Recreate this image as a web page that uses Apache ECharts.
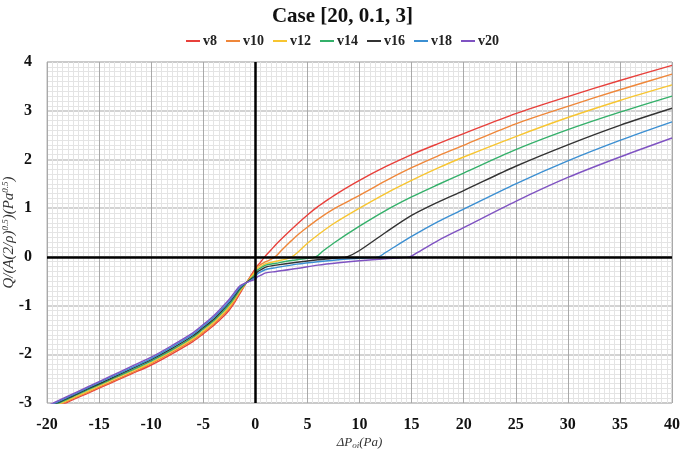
<!DOCTYPE html>
<html>
<head>
<meta charset="utf-8">
<script src="https://cdn.jsdelivr.net/npm/echarts@6/dist/echarts.min.js"></script>
<style>html,body{margin:0;padding:0;background:#fff}#c{width:685px;height:452px}</style>
</head>
<body>
<div id="c"></div>
<script>
// ---- data ----
const seriesNames = ['v8', 'v10', 'v12', 'v14', 'v16', 'v18', 'v20'];
const xTicks = [-20, -15, -10, -5, 0, 5, 10, 15, 20, 25, 30, 35, 40];
const yTicks = [-3, -2, -1, 0, 1, 2, 3, 4];

// shared x positions on the negative side
const xNeg = [-20, -18, -16, -14, -12, -10, -8, -6, -5, -4, -3, -2.5, -2, -1.5, -1, -0.5, 0];
const yNeg_v8  = [-3.16, -2.98, -2.79, -2.60, -2.41, -2.22, -1.99, -1.74, -1.58, -1.41, -1.21, -1.09, -0.94, -0.76, -0.58, -0.41, -0.24];
const yNeg_v10 = [-3.14, -2.96, -2.77, -2.58, -2.39, -2.19, -1.96, -1.71, -1.55, -1.38, -1.17, -1.05, -0.91, -0.73, -0.57, -0.43, -0.28];
const yNeg_v12 = [-3.13, -2.94, -2.75, -2.55, -2.36, -2.17, -1.93, -1.68, -1.52, -1.34, -1.14, -1.02, -0.87, -0.71, -0.57, -0.44, -0.31];
const yNeg_v14 = [-3.11, -2.92, -2.72, -2.53, -2.34, -2.14, -1.91, -1.65, -1.48, -1.31, -1.10, -0.98, -0.84, -0.68, -0.56, -0.46, -0.35];
const yNeg_v16 = [-3.09, -2.90, -2.70, -2.51, -2.31, -2.11, -1.88, -1.62, -1.45, -1.28, -1.06, -0.94, -0.80, -0.65, -0.55, -0.47, -0.39];
const yNeg_v18 = [-3.08, -2.88, -2.68, -2.48, -2.29, -2.09, -1.85, -1.59, -1.42, -1.24, -1.03, -0.91, -0.77, -0.63, -0.55, -0.49, -0.42];
const yNeg_v20 = [-3.06, -2.86, -2.66, -2.46, -2.26, -2.06, -1.82, -1.56, -1.39, -1.21, -0.99, -0.87, -0.73, -0.60, -0.54, -0.50, -0.46];

// positive side, per series
const xPos_v8  = [0.2, 0.5, 0.9, 1.5, 2, 3, 4, 5, 6, 7, 8, 10, 12.5, 15, 17.5, 20, 25, 30, 35, 40];
const yPos_v8  = [-0.18, -0.11, 0, 0.14, 0.26, 0.47, 0.67, 0.86, 1.03, 1.18, 1.32, 1.57, 1.85, 2.10, 2.32, 2.53, 2.94, 3.29, 3.62, 3.93];
const xPos_v10 = [0.2, 0.5, 1, 1.5, 1.9, 2.5, 3.3, 4, 5, 6, 7.5, 10, 12.5, 15, 17.5, 20, 25, 30, 35, 40];
const yPos_v10 = [-0.20, -0.16, -0.10, -0.05, 0, 0.13, 0.30, 0.44, 0.61, 0.77, 0.98, 1.26, 1.56, 1.83, 2.07, 2.29, 2.73, 3.09, 3.43, 3.75];
const xPos_v12 = [0.2, 0.5, 1, 2, 3, 3.5, 4, 5, 6, 7.5, 10, 12.5, 15, 17.5, 20, 25, 30, 35, 40];
const yPos_v12 = [-0.24, -0.20, -0.14, -0.09, -0.04, 0, 0.08, 0.28, 0.45, 0.68, 1.00, 1.30, 1.57, 1.82, 2.05, 2.47, 2.86, 3.21, 3.53];
const xPos_v14 = [0.2, 0.5, 1, 2, 3, 4, 5, 5.8, 6.5, 7.5, 10, 12.5, 15, 17.5, 20, 25, 30, 35, 40];
const yPos_v14 = [-0.27, -0.23, -0.17, -0.13, -0.09, -0.06, -0.03, 0, 0.12, 0.28, 0.63, 0.95, 1.23, 1.48, 1.72, 2.20, 2.61, 2.97, 3.30];
const xPos_v16 = [0.2, 0.5, 1, 2, 4, 6, 8, 8.8, 10, 12.5, 15, 17.5, 20, 25, 30, 35, 40];
const yPos_v16 = [-0.31, -0.27, -0.21, -0.17, -0.11, -0.06, -0.02, 0, 0.13, 0.50, 0.85, 1.12, 1.36, 1.86, 2.30, 2.70, 3.05];
const xPos_v18 = [0.2, 0.5, 1, 2, 4, 6, 8, 10, 11.8, 12.5, 15, 17.5, 20, 25, 30, 35, 40];
const yPos_v18 = [-0.35, -0.31, -0.26, -0.22, -0.15, -0.10, -0.06, -0.03, 0, 0.09, 0.42, 0.72, 0.98, 1.50, 1.97, 2.39, 2.77];
const xPos_v20 = [0.2, 0.5, 1, 2, 4, 6, 8, 10, 12.5, 14.8, 15.5, 17.5, 20, 25, 30, 35, 40];
const yPos_v20 = [-0.41, -0.38, -0.33, -0.30, -0.24, -0.17, -0.12, -0.08, -0.04, 0, 0.08, 0.33, 0.60, 1.14, 1.63, 2.05, 2.44];

const colors = ['#e8403b', '#ef873a', '#f7c531', '#34b06a', '#333333', '#3b8fd2', '#7f53c2'];

// ---- build ----
const negY = [yNeg_v8, yNeg_v10, yNeg_v12, yNeg_v14, yNeg_v16, yNeg_v18, yNeg_v20];
const posX = [xPos_v8, xPos_v10, xPos_v12, xPos_v14, xPos_v16, xPos_v18, xPos_v20];
const posY = [yPos_v8, yPos_v10, yPos_v12, yPos_v14, yPos_v16, yPos_v18, yPos_v20];

const serif = '"Liberation Serif", "Times New Roman", serif';

const series = seriesNames.map((name, i) => {
  const data = xNeg.map((x, k) => [x, negY[i][k]])
    .concat(posX[i].map((x, k) => [x, posY[i][k]]));
  const s = {
    name, type: 'line', data, showSymbol: false, symbol: 'none',
    smooth: 0.3, clip: true,
    lineStyle: { width: 1.4, color: colors[i] },
    itemStyle: { color: colors[i] },
    z: 3
  };
  if (i === 0) {
    s.markLine = {
      silent: true, symbol: 'none', animation: false,
      label: { show: false },
      lineStyle: { color: '#000', width: 2.5, type: 'solid' },
      data: [{ xAxis: 0 }, { yAxis: 0 }],
      z: 4
    };
  }
  return s;
});

const chart = echarts.init(document.getElementById('c'), null, { renderer: 'canvas' });
chart.setOption({
  animation: false,
  backgroundColor: '#fff',
  title: {
    text: 'Case [20, 0.1, 3]', left: 'center', top: 1,
    textStyle: { fontFamily: serif, fontWeight: 'bold', fontSize: 21, color: '#111' }
  },
  legend: {
    top: 29, left: 'center', itemWidth: 14, itemHeight: 2, itemGap: 9,
    icon: 'rect',
    textStyle: { fontFamily: serif, fontWeight: 'bold', fontSize: 14, color: '#222', padding: [0, 0, 0, -2] },
    data: seriesNames
  },
  grid: { left: 47, right: 13, top: 62, bottom: 49, containLabel: false, outerBoundsMode: 'none',
    show: true, borderColor: '#b8b8b8', borderWidth: 1 },
  xAxis: {
    type: 'value', min: xTicks[0], max: xTicks[xTicks.length - 1], interval: 5,
    name: 'ΔP{sub|oi}(Pa)', nameLocation: 'middle', nameGap: 32, nameMoveOverlap: false,
    nameTextStyle: {
      fontFamily: serif, fontStyle: 'italic', fontSize: 13, color: '#333',
      rich: { sub: { fontFamily: serif, fontStyle: 'italic', fontSize: 9, color: '#333', verticalAlign: 'bottom', padding: [6, 0, 0, 0] } }
    },
    axisLine: { show: false },
    axisTick: { show: false },
    axisLabel: { fontFamily: serif, fontWeight: 'bold', fontSize: 16, color: '#111', margin: 14 },
    splitLine: { show: true, lineStyle: { color: '#a9a9a9', width: 1 } },
    minorTick: { show: false, splitNumber: 10 },
    minorSplitLine: { show: true, lineStyle: { color: '#e4e4e4', width: 1 } }
  },
  yAxis: {
    type: 'value', min: yTicks[0], max: yTicks[yTicks.length - 1], interval: 1,
    name: 'Q/(A(2/ρ){sup|0.5})(Pa{sup|0.5})', nameLocation: 'middle', nameGap: 30, nameRotate: 90,
    nameMoveOverlap: false,
    nameTextStyle: {
      fontFamily: serif, fontStyle: 'italic', fontSize: 15, color: '#333',
      rich: { sup: { fontFamily: serif, fontStyle: 'italic', fontSize: 9, color: '#333', verticalAlign: 'top', padding: [0, 0, 7, 0] } }
    },
    axisLine: { show: false },
    axisTick: { show: false },
    axisLabel: { fontFamily: serif, fontWeight: 'bold', fontSize: 16, color: '#111', margin: 15 },
    splitLine: { show: true, lineStyle: { color: '#c4c4c4', width: 1.5 } },
    minorTick: { show: false, splitNumber: 10 },
    minorSplitLine: { show: true, lineStyle: { color: '#e4e4e4', width: 1 } }
  },
  series
});
</script>
</body>
</html>
